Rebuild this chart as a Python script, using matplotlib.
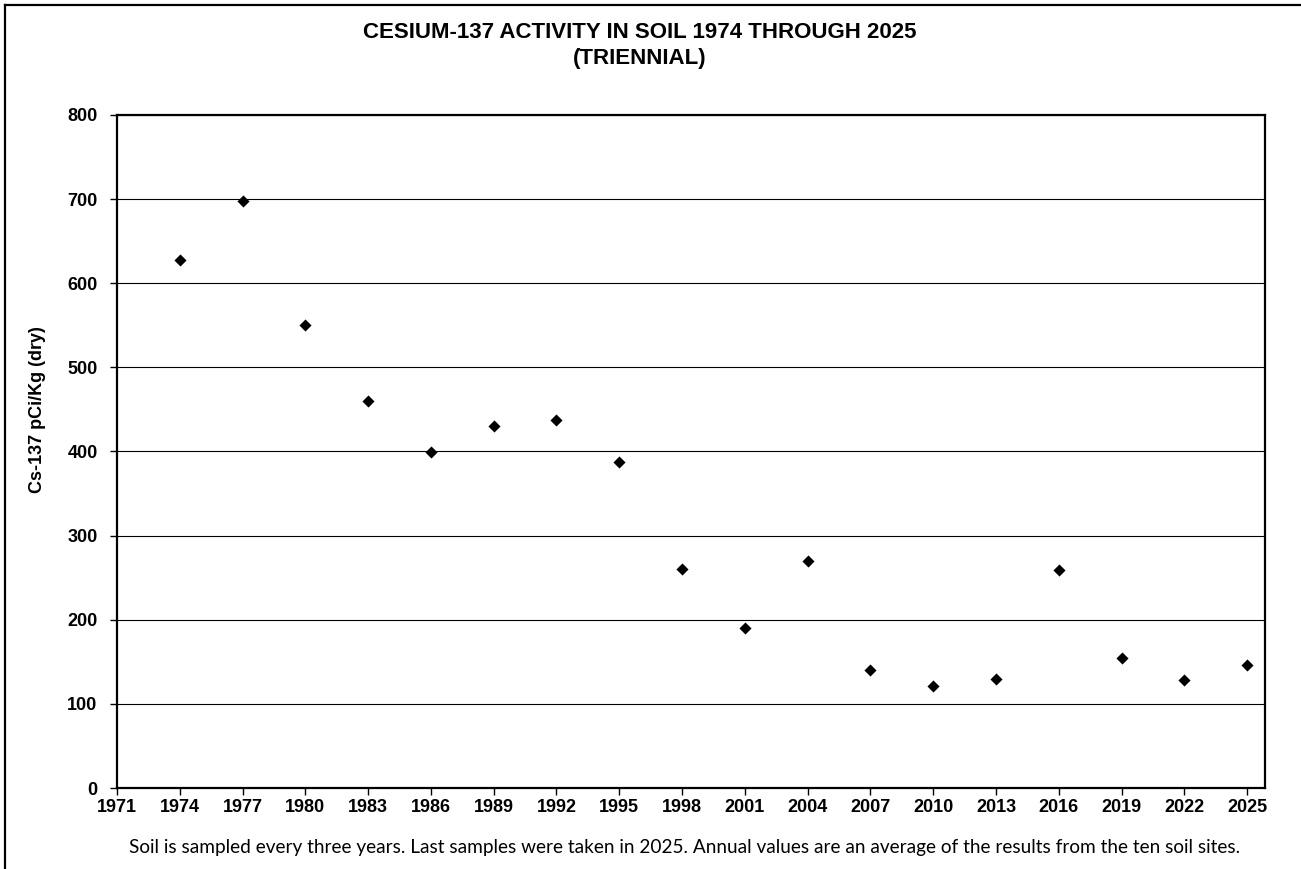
import matplotlib
matplotlib.use("Agg")
import matplotlib.pyplot as plt
from matplotlib.lines import Line2D

years = [1974, 1977, 1980, 1983, 1986, 1989, 1992, 1995, 1998,
         2001, 2004, 2007, 2010, 2013, 2016, 2019, 2022, 2025]
cs137 = [628, 698, 550, 460, 399, 430, 438, 388, 260,
         190, 270, 140, 121, 130, 259, 155, 128, 146]

x_ticks = list(range(1971, 2026, 3))
y_ticks = list(range(0, 801, 100))

title = "CESIUM-137 ACTIVITY IN SOIL 1974 THROUGH 2025\n(TRIENNIAL)"
y_label = "Cs-137 pCi/Kg (dry)"
note = ("Soil is sampled every three years. Last samples were taken in 2025. "
        "Annual values are an average of the results from the ten soil sites.")

plt.rcParams['font.family'] = ['Liberation Sans', 'DejaVu Sans']

fig = plt.figure(figsize=(13.01, 8.69), dpi=100)
ax = fig.add_axes([0.0899, 0.0932, 0.8824, 0.7745])

ax.scatter(years, cs137, marker='D', s=38, color='black', zorder=3, linewidths=0)

ax.set_xlim(1971, 2025.85)
ax.set_ylim(0, 800)
ax.set_xticks(x_ticks)
ax.set_yticks(y_ticks)
ax.yaxis.grid(True, color='black', linewidth=0.8)
ax.set_axisbelow(True)
for s in ax.spines.values():
    s.set_linewidth(1.6)
ax.tick_params(direction='out', length=5, width=1, labelsize=13)
ax.tick_params(axis='x', pad=3)
ax.tick_params(axis='y', pad=9)
for lbl in ax.get_xticklabels() + ax.get_yticklabels():
    lbl.set_fontweight('bold')

# the label sits a little above the middle of the axis, as in the source
ax.set_ylabel(y_label, fontsize=13, fontweight='bold')
ax.yaxis.set_label_coords(-0.062, 0.563)

fig.text(0.492, 0.975, title, ha='center', va='top', fontsize=16,
         fontweight='bold', linespacing=1.3)
fig.text(0.5265, 0.025, note, ha='center', va='center', fontsize=13.7,
         family=['Lato', 'DejaVu Sans'])

# frame around the figure (left and top edges)
fig.add_artist(Line2D([0.004, 0.004], [0.0, 0.994], transform=fig.transFigure,
                      color='black', linewidth=1.6))
fig.add_artist(Line2D([0.004, 1.0], [0.994, 0.994], transform=fig.transFigure,
                      color='black', linewidth=1.6))

fig.savefig("out.png", dpi=100)
